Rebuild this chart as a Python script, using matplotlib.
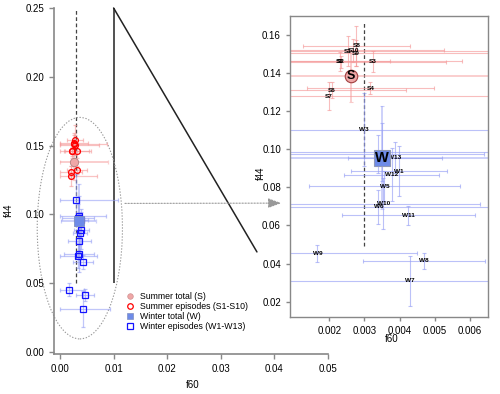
import numpy as np
import matplotlib
matplotlib.use("Agg")
import matplotlib.pyplot as plt
from matplotlib.patches import Ellipse, ConnectionPatch

plt.rcParams['font.family'] = ['Liberation Sans', 'DejaVu Sans']

# ---------------- data ----------------
summer_labels = ['S1', 'S2', 'S3', 'S4', 'S5', 'S6', 'S7', 'S8', 'S9', 'S10']
summer_f60 = [0.00252, 0.00233, 0.00323, 0.00317, 0.00231, 0.00208, 0.00199, 0.00277, 0.00276, 0.00268]
summer_f44 = [0.1514, 0.1458, 0.1460, 0.1320, 0.1460, 0.1310, 0.1277, 0.1542, 0.1504, 0.1518]
summer_f60_sd = [0.0063, 0.0030, 0.00255, 0.0018, 0.00142, 0.0021, 0.0050, 0.00153, 0.0045, 0.0026]
summer_f44_sd = [0.0077, 0.0030, 0.0053, 0.0030, 0.0049, 0.0042, 0.0074, 0.0105, 0.0070, 0.0060]
summer_total_f60 = 0.00262
summer_total_f44 = 0.1382
summer_total_f60_sd = 0.0063
summer_total_f44_sd = 0.0134

winter_labels = ['W1', 'W2', 'W3', 'W4', 'W5', 'W6', 'W7', 'W8', 'W9', 'W10', 'W11', 'W12', 'W13']
winter_f60 = [0.00398, 0.00350, 0.00298, 0.00340, 0.00357, 0.00340, 0.00430, 0.00470, 0.00166, 0.00354, 0.00425, 0.00378, 0.00387]
winter_f44 = [0.0885, 0.0985, 0.1103, 0.0975, 0.0806, 0.0697, 0.0311, 0.0414, 0.0453, 0.0715, 0.0653, 0.0867, 0.0956]
winter_f60_sd = [0.00137, 0.0050, 0.0079, 0.0030, 0.00214, 0.0035, 0.0051, 0.00173, 0.00283, 0.00276, 0.0019, 0.00135, 0.00133]
winter_f44_sd = [0.0133, 0.0150, 0.0190, 0.0100, 0.0080, 0.0088, 0.0131, 0.0042, 0.0045, 0.0136, 0.0050, 0.0140, 0.0080]
winter_total_f60 = 0.00349
winter_total_f44 = 0.0954
winter_total_f60_sd = 0.0033
winter_total_f44_sd = 0.0270

legend_labels = ['Summer total (S)', 'Summer episodes (S1-S10)',
                 'Winter total (W)', 'Winter episodes (W1-W13)']

ref_f60 = 0.003
zoom_f60 = 0.01
ref_f44_range = (0.05, 0.25)

# ---------------- colours ----------------
c_s_bar = '#F59A9A'
c_w_bar = '#97A0F5'
c_s_pt = '#FF0000'
c_w_pt = '#1414FF'
c_s_tot = '#EFA7A7'
c_w_tot = '#6E8BE8'
c_axis = '#888888'

fig = plt.figure(figsize=(5.0, 3.94), dpi=100)
W, H = 500, 394
ax1 = fig.add_axes([54 / W, (H - 354) / H, 274 / W, 346 / H])
ax2 = fig.add_axes([290 / W, (H - 317) / H, 198 / W, 301.3 / H])


def xerr_of(x, sd):
    x = np.asarray(x); sd = np.asarray(sd)
    return np.vstack([np.minimum(sd, x), sd])


def draw_bars(ax, lw, cap, alpha):
    ax.errorbar(summer_f60, summer_f44, xerr=xerr_of(summer_f60, summer_f60_sd),
                yerr=summer_f44_sd, fmt='none', ecolor=c_s_bar, elinewidth=lw,
                capsize=cap, capthick=lw, alpha=alpha, zorder=2)
    ax.errorbar([summer_total_f60], [summer_total_f44],
                xerr=xerr_of([summer_total_f60], [summer_total_f60_sd]),
                yerr=[summer_total_f44_sd], fmt='none', ecolor=c_s_bar,
                elinewidth=lw * 1.6, capsize=cap, capthick=lw, alpha=alpha * 0.8, zorder=2)
    ax.errorbar(winter_f60, winter_f44, xerr=xerr_of(winter_f60, winter_f60_sd),
                yerr=winter_f44_sd, fmt='none', ecolor=c_w_bar, elinewidth=lw,
                capsize=cap, capthick=lw, alpha=alpha, zorder=2)
    ax.errorbar([winter_total_f60], [winter_total_f44],
                xerr=xerr_of([winter_total_f60], [winter_total_f60_sd]),
                yerr=[winter_total_f44_sd], fmt='none', ecolor=c_w_bar,
                elinewidth=lw * 1.6, capsize=cap, capthick=lw, alpha=alpha * 0.8, zorder=2)


# ---------------- left panel ----------------
draw_bars(ax1, 0.9, 1.5, 0.6)
ax1.vlines(ref_f60, *ref_f44_range, colors='#444444', linestyles=(0, (3, 2)), lw=0.9, zorder=1)
ax1.vlines(zoom_f60, *ref_f44_range, colors='#222222', lw=1.1, zorder=1)
ax1.plot(summer_f60, summer_f44, 'o', mfc='none', mec=c_s_pt, ms=4.2, mew=0.9, zorder=4)
ax1.plot([summer_total_f60], [summer_total_f44], 'o', mfc=c_s_tot, mec='#B08080', ms=6, mew=0.6, zorder=5)
ax1.plot(winter_f60, winter_f44, 's', mfc='none', mec=c_w_pt, ms=4.2, mew=0.9, zorder=4)
ax1.plot([winter_total_f60], [winter_total_f44], 's', mfc=c_w_tot, mec='#8090C0', ms=6.5, mew=0.6, zorder=5)

ell = Ellipse((0.0037, 0.090), 0.0159, 0.161, fill=False, ls=(0, (1.2, 1.5)),
              ec='#999999', lw=0.8, clip_on=False, zorder=1)
ax1.add_patch(ell)

ax1.set_xlim(-0.00112, 0.05)
ax1.set_ylim(-0.00145, 0.25)
ax1.set_xticks([0.0, 0.01, 0.02, 0.03, 0.04, 0.05])
ax1.set_xticklabels(['0.00', '0.01', '0.02', '0.03', '0.04', '0.05'])
ax1.set_yticks([0.0, 0.05, 0.10, 0.15, 0.20, 0.25])
ax1.set_yticklabels(['0.00', '0.05', '0.10', '0.15', '0.20', '0.25'])
for s in ['top', 'right']:
    ax1.spines[s].set_visible(False)
for s in ['left', 'bottom']:
    ax1.spines[s].set_color(c_axis)
    ax1.spines[s].set_linewidth(1.2)
ax1.tick_params(axis='both', colors=c_axis, labelcolor='black', labelsize=7, length=3.5, width=1)
ax1.patch.set_alpha(0)
fig.text(193 / W, 1 - 385 / H, 'f60', fontsize=7, ha='center', va='center')
fig.text(9 / W, 1 - 210 / H, 'f44', fontsize=7, ha='center', va='center', rotation=90)

# legend
h1 = ax1.plot([], [], 'o', mfc=c_s_tot, mec='#D09090', ms=4, mew=0.5)[0]
h2 = ax1.plot([], [], 'o', mfc='none', mec=c_s_pt, ms=4, mew=0.9)[0]
h3 = ax1.plot([], [], 's', mfc=c_w_tot, mec='#8090C0', ms=4, mew=0.5)[0]
h4 = ax1.plot([], [], 's', mfc='none', mec=c_w_pt, ms=4, mew=0.9)[0]
ax1.legend([h1, h2, h3, h4], legend_labels, loc='upper left',
           bbox_to_anchor=(0.245, 0.193), frameon=False, fontsize=6.3,
           handlelength=1.0, handletextpad=0.6, labelspacing=0.12, borderpad=0)

# ---------------- right panel ----------------
draw_bars(ax2, 0.8, 1.3, 0.65)
ax2.vlines(ref_f60, 0.049, 0.166, colors='#444444', linestyles=(0, (3, 2)), lw=0.9, zorder=1)
for lab, x, y in zip(summer_labels, summer_f60, summer_f44):
    ax2.text(x, y, lab, fontsize=4.6, fontweight='bold', ha='center', va='center', zorder=6)
for lab, x, y in zip(winter_labels, winter_f60, winter_f44):
    ax2.text(x, y, lab, fontsize=4.6, fontweight='bold', ha='center', va='center', zorder=6)
ax2.plot([summer_total_f60], [summer_total_f44], 'o', mfc=c_s_tot, mec='#A04040', ms=9, mew=0.8, zorder=7)
ax2.text(summer_total_f60, summer_total_f44, 'S', fontsize=9, fontweight='bold', ha='center', va='center', zorder=8)
ax2.plot([winter_total_f60], [winter_total_f44], 's', mfc=c_w_tot, mec='#9098B8', ms=11, mew=0.8, zorder=7)
ax2.text(winter_total_f60, winter_total_f44, 'W', fontsize=10.5, fontweight='bold', ha='center', va='center', zorder=8)

ax2.set_xlim(0.00088, 0.00652)
ax2.set_ylim(0.012, 0.17)
ax2.set_xticks([0.002, 0.003, 0.004, 0.005, 0.006])
ax2.set_xticklabels(['0.002', '0.003', '0.004', '0.005', '0.006'])
ax2.set_yticks([0.02, 0.04, 0.06, 0.08, 0.10, 0.12, 0.14, 0.16])
ax2.set_yticklabels(['0.02', '0.04', '0.06', '0.08', '0.10', '0.12', '0.14', '0.16'])
for s in ax2.spines.values():
    s.set_color(c_axis)
    s.set_linewidth(1.0)
ax2.tick_params(axis='both', colors=c_axis, labelcolor='black', labelsize=7, length=3, width=1)
fig.text(392 / W, 1 - 339 / H, 'f60', fontsize=7, ha='center', va='center')
fig.text(261 / W, 1 - 173 / H, 'f44', fontsize=7, ha='center', va='center', rotation=90)

# ---------------- connectors ----------------
con = ConnectionPatch(xyA=(zoom_f60, ref_f44_range[1]), coordsA=ax1.transData,
                      xyB=(-0.167, 0.216), coordsB=ax2.transAxes,
                      color='#222222', lw=1.1, zorder=0)
fig.add_artist(con)
ax1.annotate('', xy=(-0.03, 0.378), xycoords=ax2.transAxes,
             xytext=(0.0116, 0.108), textcoords='data',
             arrowprops=dict(arrowstyle='-|>,head_length=0.8,head_width=0.3',
                             color='#999999', lw=0.8, ls=(0, (1.2, 1.5))),
             annotation_clip=False)

fig.savefig('out.png', dpi=100)
